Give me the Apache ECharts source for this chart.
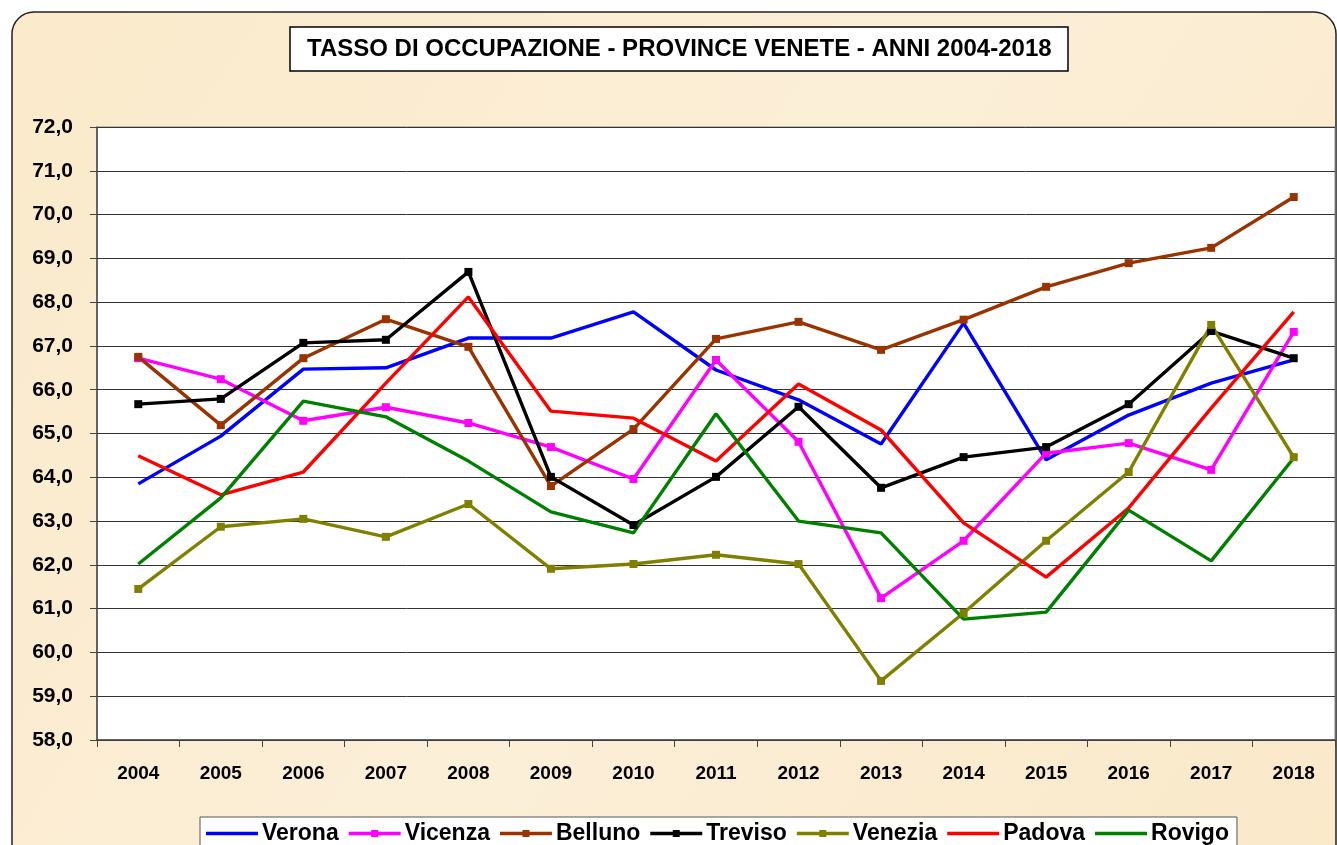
<!DOCTYPE html>
<html>
<head>
<meta charset="UTF-8">
<title>Tasso di occupazione - province venete</title>
<script src="https://cdn.jsdelivr.net/npm/echarts@6/dist/echarts.min.js"></script>
<style>
    html, body{
        margin: 0;
        padding: 0;
        background: #fff;
    }
    #main{
        width: 1337px;
        height: 845px;
    }
</style>
</head>
<body>
    <div id="main"></div>
    <script type="text/javascript">
        var anni = ['2004','2005','2006','2007','2008','2009','2010','2011','2012','2013','2014','2015','2016','2017','2018']

        var verona  = [63.85, 64.94, 66.47, 66.50, 67.18, 67.18, 67.78, 66.45, 65.77, 64.76, 67.52, 64.40, 65.42, 66.15, 66.68]
        var vicenza = [66.72, 66.24, 65.29, 65.60, 65.24, 64.69, 63.96, 66.68, 64.81, 61.24, 62.55, 64.55, 64.78, 64.17, 67.32]
        var belluno = [66.75, 65.19, 66.72, 67.61, 66.98, 63.80, 65.10, 67.16, 67.55, 66.91, 67.60, 68.35, 68.89, 69.24, 70.40]
        var treviso = [65.67, 65.79, 67.07, 67.14, 68.69, 64.01, 62.91, 64.01, 65.61, 63.76, 64.46, 64.69, 65.67, 67.34, 66.72]
        var venezia = [61.45, 62.87, 63.05, 62.64, 63.39, 61.91, 62.02, 62.23, 62.02, 59.35, 60.90, 62.55, 64.12, 67.48, 64.46]
        var padova  = [64.49, 63.60, 64.12, 66.15, 68.12, 65.51, 65.35, 64.37, 66.13, 65.08, 62.96, 61.72, 63.30, 65.58, 67.78]
        var rovigo  = [62.02, 63.53, 65.74, 65.38, 64.37, 63.21, 62.73, 65.45, 63.00, 62.73, 60.76, 60.92, 63.25, 62.09, 64.44]

        var font = 'Liberation Sans, Arial, sans-serif'

        // una serie line, con o senza quadratini
        function serie(nome, dati, colore, quadrati){
            return {
                name: nome,
                type: 'line',
                data: dati,
                symbol: quadrati ? 'rect' : 'none',
                symbolSize: 8,
                showSymbol: quadrati,
                itemStyle: { color: colore },
                lineStyle: { color: colore, width: 3.4 },
                animation: false
            }
        }

        // icone legenda: solo linea, oppure linea con quadratino
        var soloLinea = 'path://M0,0H52V3.4H0Z'
        var lineaQuadro = 'path://M0,2.3H52V5.7H0Z M22.5,0.5H29.5V7.5H22.5Z'

        var myChart = echarts.init(document.getElementById('main'));

        var option = {
            backgroundColor: 'transparent',
            graphic: [
                {
                    type: 'rect',
                    z: -10,
                    shape: { x: 12, y: 12, width: 1324, height: 860, r: 22 },
                    style: {
                        fill: new echarts.graphic.LinearGradient(0, 0, 1, 1, [
                            { offset: 0, color: '#fbeacb' },
                            { offset: 0.5, color: '#fcefd8' },
                            { offset: 1, color: '#fae9c9' }
                        ]),
                        stroke: '#222',
                        lineWidth: 1.5
                    }
                }
            ],
            title: {
                text: 'TASSO DI OCCUPAZIONE - PROVINCE VENETE - ANNI 2004-2018',
                left: 290,
                top: 27,
                padding: [10, 17, 10, 17],
                backgroundColor: '#fff',
                borderColor: '#000',
                borderWidth: 1.5,
                textStyle: {
                    fontFamily: font,
                    fontSize: 24,
                    fontWeight: 'bold',
                    color: '#000'
                }
            },
            legend: {
                left: 200,
                top: 817,
                padding: [5, 8, 10, 6],
                itemGap: 10,
                itemWidth: 52,
                itemHeight: 8,
                symbolKeepAspect: true,
                backgroundColor: '#fff',
                borderColor: '#555',
                borderWidth: 1,
                data: [
                    { name: 'Verona', icon: soloLinea },
                    { name: 'Vicenza', icon: lineaQuadro },
                    { name: 'Belluno', icon: lineaQuadro },
                    { name: 'Treviso', icon: lineaQuadro },
                    { name: 'Venezia', icon: lineaQuadro },
                    { name: 'Padova', icon: soloLinea },
                    { name: 'Rovigo', icon: soloLinea }
                ],
                textStyle: {
                    fontFamily: font,
                    fontSize: 23,
                    fontWeight: 'bold',
                    color: '#000',
                    padding: [0, 0, 0, -1]
                }
            },
            grid: {
                show: true,
                left: 97,
                right: 2,
                top: 127,
                bottom: 105,
                backgroundColor: '#fff',
                borderColor: '#888',
                borderWidth: 1
            },
            xAxis: {
                type: 'category',
                data: anni,
                boundaryGap: true,
                axisLine: { lineStyle: { color: '#444', width: 1.5 } },
                axisTick: { show: true, length: 7, lineStyle: { color: '#444' } },
                axisLabel: {
                    margin: 24,
                    fontFamily: font,
                    fontSize: 19,
                    fontWeight: 'bold',
                    color: '#000'
                }
            },
            yAxis: {
                type: 'value',
                min: 58,
                max: 72,
                interval: 1,
                axisLine: { show: true, lineStyle: { color: '#444', width: 1.5 } },
                axisTick: { show: true, length: 7, lineStyle: { color: '#444' } },
                axisLabel: {
                    margin: 24,
                    fontFamily: font,
                    fontSize: 21,
                    fontWeight: 'bold',
                    color: '#000',
                    formatter: function(v){
                        return v.toFixed(1).replace('.', ',')
                    }
                },
                splitLine: { lineStyle: { color: '#333', width: 1 } }
            },
            series: [
                serie('Verona', verona, '#0000ff', false),
                serie('Vicenza', vicenza, '#ff00ff', true),
                serie('Belluno', belluno, '#993300', true),
                serie('Treviso', treviso, '#000000', true),
                serie('Venezia', venezia, '#808000', true),
                serie('Padova', padova, '#ff0000', false),
                serie('Rovigo', rovigo, '#008000', false)
            ]
        };
        myChart.setOption(option);
    </script>
</body>
</html>
